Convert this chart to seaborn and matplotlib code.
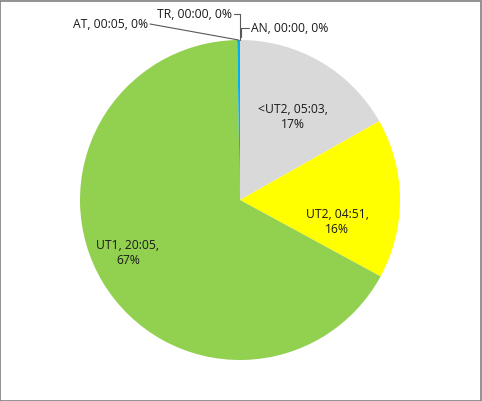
import numpy as np
import matplotlib
matplotlib.use("Agg")
import matplotlib.pyplot as plt
import seaborn as sns

# Data (minutes), clockwise from top
zones = ["AN", "<UT2", "UT2", "UT1", "AT", "TR"]
times = ["00:00", "05:03", "04:51", "20:05", "00:05", "00:00"]
minutes = [0, 303, 291, 1205, 5, 0]
colors = ["#4472C4", "#D9D9D9", "#FFFF00", "#92D050", "#00B0F0", "#ED7D31"]

sns.set_theme(style="white")
plt.rcParams["font.family"] = ["Open Sans", "DejaVu Sans"]

fig = plt.figure(figsize=(4.82, 4.01), dpi=100)
ax = fig.add_axes([0, 0, 1, 1])

wedges, _ = ax.pie(
    minutes,
    colors=colors,
    startangle=90,
    counterclock=False,
    radius=1.0,
    wedgeprops=dict(linewidth=0),
)

# pixel -> data helpers (center 240,200 ; radius 160 px)
def px(x, y):
    return (x - 240) / 160, (200 - y) / 160

ax.set_xlim(-240 / 160, 242 / 160)
ax.set_ylim(-201 / 160, 200 / 160)
ax.set_aspect("auto")
ax.axis("off")

total = sum(minutes)
pct = [round(100 * m / total) for m in minutes]
labels = [f"{z}, {t}, {p}%" for z, t, p in zip(zones, times, pct)]

fs = 8.7
tc = "#1a1a1a"

# labels inside the big slices
inside = {1: (293, 117), 2: (337, 222), 3: (128, 253)}
for i, (lx, ly) in inside.items():
    x, y = px(lx, ly)
    ax.text(x, y, f"{zones[i]}, {times[i]},\n{pct[i]}%", ha="center", va="center",
            fontsize=fs, color=tc, linespacing=1.25)

# small slices with leader lines
def anchor(i):
    w = wedges[i]
    th = np.deg2rad((w.theta1 + w.theta2) / 2)
    return np.cos(th), np.sin(th)

line_kw = dict(color="#595959", lw=0.8)

# AT
ax_, ay_ = anchor(4)
tx, ty = px(150, 24)
ax.plot([tx, ax_], [ty, ay_], **line_kw)
ax.text(tx - 0.01, ty, labels[4], ha="right", va="center", fontsize=fs, color=tc)

# TR
ax_, ay_ = anchor(5)
tx, ty = px(234, 14)
ax.plot([tx, ax_, ax_], [ty, ty, ay_], **line_kw)
ax.text(tx - 0.01, ty, labels[5], ha="right", va="center", fontsize=fs, color=tc)

# AN
ax_, ay_ = anchor(0)
tx, ty = px(249, 28)
ax.plot([tx, ax_ + 0.005, ax_ + 0.005], [ty, ty, ay_ + 0.02], **line_kw)
ax.text(tx + 0.01, ty, labels[0], ha="left", va="center", fontsize=fs, color=tc)

# chart border
fig.patches.append(plt.Rectangle((0.001, 0.001), 0.997, 0.996, transform=fig.transFigure,
                                 fill=False, edgecolor="#7f7f7f", linewidth=1.2))

fig.savefig("out.png", dpi=100)
